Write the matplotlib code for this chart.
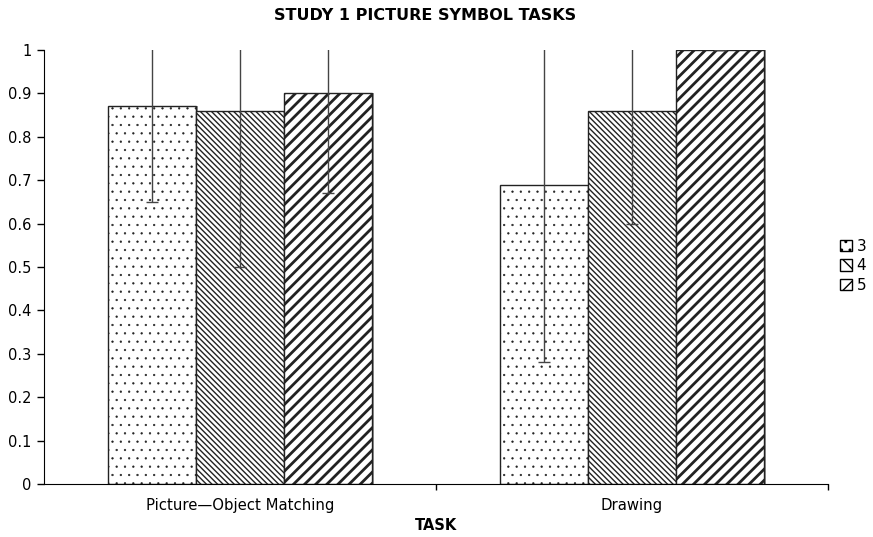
import numpy as np
import matplotlib
matplotlib.use("Agg")
import matplotlib.pyplot as plt
import matplotlib.transforms as mtransforms
from matplotlib.patches import Patch

# Proportions per task and group, with symmetric error spans
tasks = ["Picture\u2014Object Matching", "Drawing"]
groups = ["3", "4", "5"]
means = {
    "3": [0.87, 0.69],
    "4": [0.86, 0.86],
    "5": [0.90, 1.00],
}
errors = {
    "3": [0.22, 0.41],
    "4": [0.36, 0.26],
    "5": [0.23, 0.00],
}
yticks = [0, 0.1, 0.2, 0.3, 0.4, 0.5, 0.6, 0.7, 0.8, 0.9, 1]

hatches = {"3": "..", "4": "\\" * 6, "5": "///"}
hatch_widths = {"3": 0.4, "4": 1.0, "5": 2.0}
hatch_colors = {"3": "#444444", "4": "black", "5": "black"}

plt.rcParams["font.family"] = ["DejaVu Sans"]

fig = plt.figure(figsize=(8.73, 5.37), dpi=100)
ax = fig.add_axes([44 / 873, 53 / 537, (828 - 44) / 873, (484 - 50) / 537])

x = np.arange(len(tasks))
width = 0.2237
shadow = ax.transData + mtransforms.ScaledTranslation(2 / 100, 0, fig.dpi_scale_trans)


def style_hatch(patch, g):
    if hasattr(patch, "set_hatch_linewidth"):
        patch.set_hatch_linewidth(hatch_widths[g])
    if hasattr(patch, "set_hatchcolor"):
        patch.set_hatchcolor(hatch_colors[g])


for i, g in enumerate(groups):
    pos = x + (i - 1) * width
    # grey drop shadow on the right of each bar
    ax.bar(pos, means[g], width, color="#9a9a9a", edgecolor="none",
           transform=shadow, zorder=1)
    with plt.rc_context({"hatch.linewidth": hatch_widths[g],
                         "hatch.color": hatch_colors[g]}):
        bars = ax.bar(pos, means[g], width, color="white", edgecolor="#222222",
                      hatch=hatches[g], linewidth=1.0, zorder=2)
    for b in bars:
        style_hatch(b, g)
    err = np.array(errors[g])
    ax.errorbar(pos, means[g], yerr=[err, err], fmt="none", ecolor="#444444",
                elinewidth=1.0, capsize=4, capthick=1.0, zorder=3)

ax.set_xlim(-0.5, 1.5)
ax.set_ylim(0, 1)
ax.set_yticks(yticks)
ax.set_yticklabels([f"{t:g}" for t in yticks], fontsize=10.5)
ax.set_xticks([0.5, 1.5])
ax.set_xticklabels([])
ax.tick_params(axis="x", length=4, width=1)
ax.tick_params(axis="y", length=5, width=1, pad=4)
for i, t in enumerate(tasks):
    ax.text(x[i], -0.033, t, ha="center", va="top", fontsize=10.7,
            transform=ax.get_xaxis_transform())

ax.spines["top"].set_visible(False)
ax.spines["right"].set_visible(False)

fig.text(436 / 873, 1 - 525 / 537, "TASK", ha="center", va="center",
         fontsize=10.5, fontweight="bold")
fig.text(425 / 873, 1 - 16 / 537, "STUDY 1 PICTURE SYMBOL TASKS", ha="center",
         va="center", fontsize=11.5, fontweight="bold")

handles = []
for g in groups:
    with plt.rc_context({"hatch.linewidth": min(hatch_widths[g], 1.0),
                         "hatch.color": hatch_colors[g]}):
        h = Patch(facecolor="white", edgecolor="black", hatch=hatches[g][:2])
    handles.append(h)
fig.legend(handles, groups, loc="center left", bbox_to_anchor=(0.955, 0.505),
           frameon=False, fontsize=11, handlelength=0.8, handleheight=0.8,
           handletextpad=0.3, labelspacing=0.3, borderaxespad=0)

fig.savefig("out.png", dpi=100)
